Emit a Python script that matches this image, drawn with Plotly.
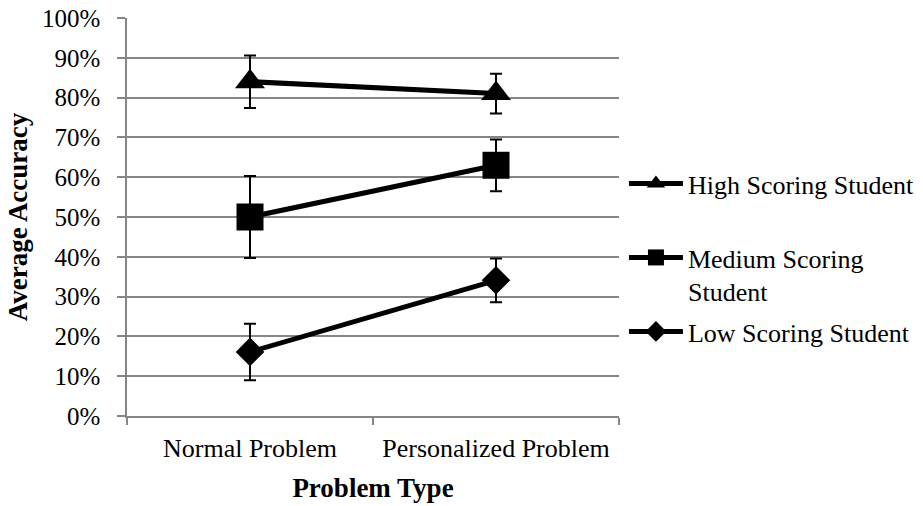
import plotly.graph_objects as go

categories = ["Normal Problem", "Personalized Problem"]

high_vals = [0.84, 0.81]
high_err = [0.066, 0.05]
med_vals = [0.50, 0.63]
med_err = [0.103, 0.065]
low_vals = [0.161, 0.341]
low_err = [0.071, 0.055]

series_names = ["High Scoring Student", "Medium Scoring<br>Student", "Low Scoring Student"]

y_tickvals = [0, 0.1, 0.2, 0.3, 0.4, 0.5, 0.6, 0.7, 0.8, 0.9, 1.0]

FONT = "Liberation Serif, Times New Roman, serif"
GRID = "#868686"

fig = go.Figure()

specs = [
    (high_vals, high_err, series_names[0], "triangle-up", 26, "legend"),
    (med_vals, med_err, series_names[1], "square", 27, "legend2"),
    (low_vals, low_err, series_names[2], "diamond", 22, "legend3"),
]

for vals, err, name, sym, size, leg in specs:
    fig.add_trace(go.Scatter(
        x=categories, y=vals, name=name, mode="lines+markers",
        line=dict(color="black", width=5),
        marker=dict(symbol=sym, size=size, color="black"),
        error_y=dict(type="data", array=err, visible=True, color="black",
                     thickness=2, width=6),
        legend=leg, showlegend=True,
    ))

leg_common = dict(
    font=dict(family=FONT, size=26, color="black"),
    bgcolor="rgba(0,0,0,0)", valign="top", itemwidth=54,
    xref="container", yref="container",
    xanchor="left", yanchor="top", x=0.676,
)

fig.update_layout(
    width=923, height=506,
    margin=dict(l=127, r=304, t=18, b=90),
    paper_bgcolor="white", plot_bgcolor="white",
    font=dict(family=FONT, size=26, color="black"),
    showlegend=True,
    legend=dict(**leg_common, y=0.6838),
    legend2=dict(**leg_common, y=0.5375),
    legend3=dict(**leg_common, y=0.3913),
    xaxis=dict(
        type="category", range=[-0.5, 1.5], tickson="boundaries", ticks="outside", ticklen=7,
        tickcolor=GRID, tickwidth=1.5, showline=True, linecolor=GRID, linewidth=1.5,
        showgrid=False, tickfont=dict(family=FONT, size=26, color="black"),
        title=dict(text="<b>Problem Type</b>", font=dict(family=FONT, size=27, color="black"), standoff=16),
        ticklabelstandoff=8, automargin=False,
    ),
    yaxis=dict(
        range=[0, 1.0], tickvals=y_tickvals, tickformat=".0%",
        ticks="outside", ticklen=8, tickcolor=GRID, tickwidth=1.5,
        showline=True, linecolor=GRID, linewidth=1.5,
        showgrid=True, gridcolor=GRID, gridwidth=1.5, zeroline=False,
        tickfont=dict(family=FONT, size=25, color="black"),
        title=dict(text="<b>Average Accuracy</b>", font=dict(family=FONT, size=27, color="black"), standoff=6),
        ticklabelstandoff=12, automargin=False,
    ),
)

fig.write_html("out.html", config={"displayModeBar": False},
               post_script="document.body.style.margin='0px';")
